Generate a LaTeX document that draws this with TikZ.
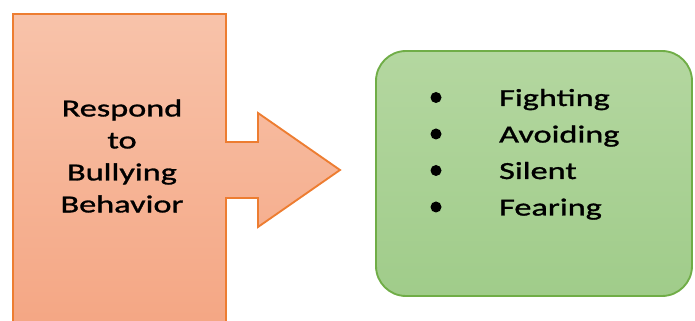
\documentclass[tikz,border=0pt]{standalone}
\usepackage{fontspec}
\setmainfont{Carlito}
\newfontfamily\wideface[FakeStretch=1.4,FakeBold=1.2]{Carlito}
\definecolor{arrowtop}{RGB}{248,195,170}
\definecolor{arrowbottom}{RGB}{244,165,130}
\definecolor{arrowline}{RGB}{237,125,49}
\definecolor{listtop}{RGB}{180,215,160}
\definecolor{listbottom}{RGB}{160,204,138}
\definecolor{listline}{RGB}{112,173,71}
\begin{document}
\begin{tikzpicture}[x=0.03cm,y=-0.03cm,
  bigtext/.style={font=\wideface\fontsize{20.9}{27.3}\selectfont, text=black},
  dot/.style={circle, fill=black, inner sep=0pt, minimum size=0.33cm}]
  \useasboundingbox (0,0) rectangle (695,321);
  \clip (0,0) rectangle (695,321);
  % arrow callout
  \shade[top color=arrowtop, bottom color=arrowbottom, draw=arrowline, line width=1.6pt]
    (13,14) -- (226,14) -- (226,142) -- (258,142) -- (258,113) -- (340,170)
    -- (258,227) -- (258,198) -- (226,198) -- (226,340) -- (13,340) -- cycle;
  \node[bigtext, align=center] (resp) at (122,156)
    {Respond\\to\\Bullying\\Behavior};
  % list box
  \shade[top color=listtop, bottom color=listbottom, draw=listline, line width=1.6pt,
    rounded corners=0.9cm] (376,51) rectangle (692,296);
  \foreach \item [count=\i] in {Fighting,Avoiding,Silent,Fearing} {
    \node[dot] (dot\i) at (436,97.5+36.5*\i-36.5) {};
    \node[bigtext, anchor=base west] (item\i) at (495,106+36.5*\i-36.5) {\item};
  }
\end{tikzpicture}
\end{document}
